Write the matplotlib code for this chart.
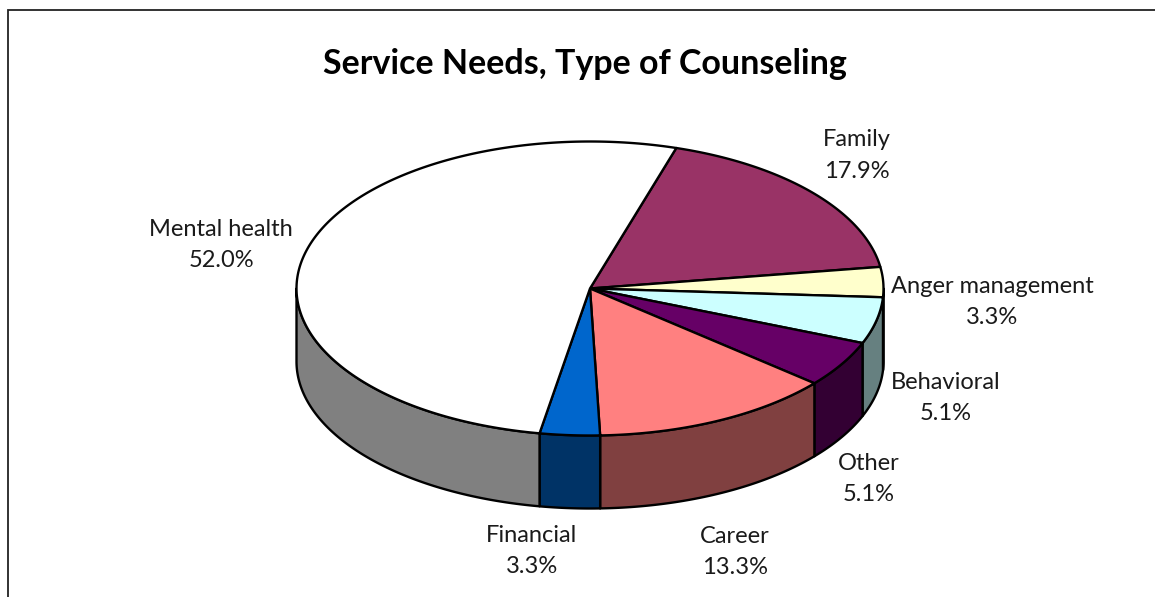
import matplotlib
matplotlib.use("Agg")
import matplotlib.pyplot as plt
from matplotlib.patches import Polygon
import numpy as np

labels = ["Family", "Anger management", "Behavioral", "Other", "Career", "Financial", "Mental health"]
values = [17.9, 3.3, 5.1, 5.1, 13.3, 3.3, 52.0]
top_colors = ["#993366", "#FFFFCC", "#CCFFFF", "#660066", "#FF8080", "#0066CC", "#FFFFFF"]
side_colors = ["#4D1A33", "#808066", "#668080", "#330033", "#804040", "#003366", "#808080"]
label_pos = [(857, 155.5), (992, 302), (946, 398), (869, 479), (735, 552), (532, 551), (221, 245)]

cx, cy = 590, 288.5
rx, ry = 293.5, 147
depth = 73
start = 17.1

plt.rcParams["font.family"] = ["Lato", "DejaVu Sans"]

fig = plt.figure(figsize=(11.55, 5.97), dpi=100)
ax = fig.add_axes([0, 0, 1, 1])
ax.set_xlim(0, 1155)
ax.set_ylim(597, 0)
ax.axis("off")


def rim(a):
    # a is degrees clockwise from the top of the ellipse
    a = np.radians(a)
    return cx + rx * np.sin(a), cy - ry * np.cos(a)


edges = start + np.cumsum([0] + values) * 3.6

# side walls, only the front half of the rim shows
for i in range(len(values)):
    a0 = max(edges[i], 90)
    a1 = min(edges[i + 1], 270)
    if a1 <= a0:
        continue
    t = np.linspace(a0, a1, 120)
    x, y = rim(t)
    pts = np.r_[np.c_[x, y], np.c_[x[::-1], y[::-1] + depth]]
    ax.add_patch(Polygon(pts, closed=True, fc=side_colors[i], ec="black", lw=1.7, joinstyle="round"))

# top face
for i in range(len(values)):
    t = np.linspace(edges[i], edges[i + 1], 200)
    x, y = rim(t)
    pts = np.r_[[[cx, cy]], np.c_[x, y]]
    ax.add_patch(Polygon(pts, closed=True, fc=top_colors[i], ec="black", lw=1.7, joinstyle="round"))

for name, v, (lx, ly) in zip(labels, values, label_pos):
    ax.text(lx, ly, f"{name}\n{v:.1f}%", ha="center", va="center", fontsize=17,
            color="#1a1a1a", linespacing=1.6)

ax.text(585, 64, "Service Needs, Type of Counseling", ha="center", va="center",
        fontsize=24.5, fontweight="bold", color="black")

# chart frame, cut off at right and bottom
ax.plot([8, 8, 1155], [597, 10, 10], color="#222222", lw=1.3, solid_joinstyle="miter")

fig.savefig("out.png", dpi=100)
